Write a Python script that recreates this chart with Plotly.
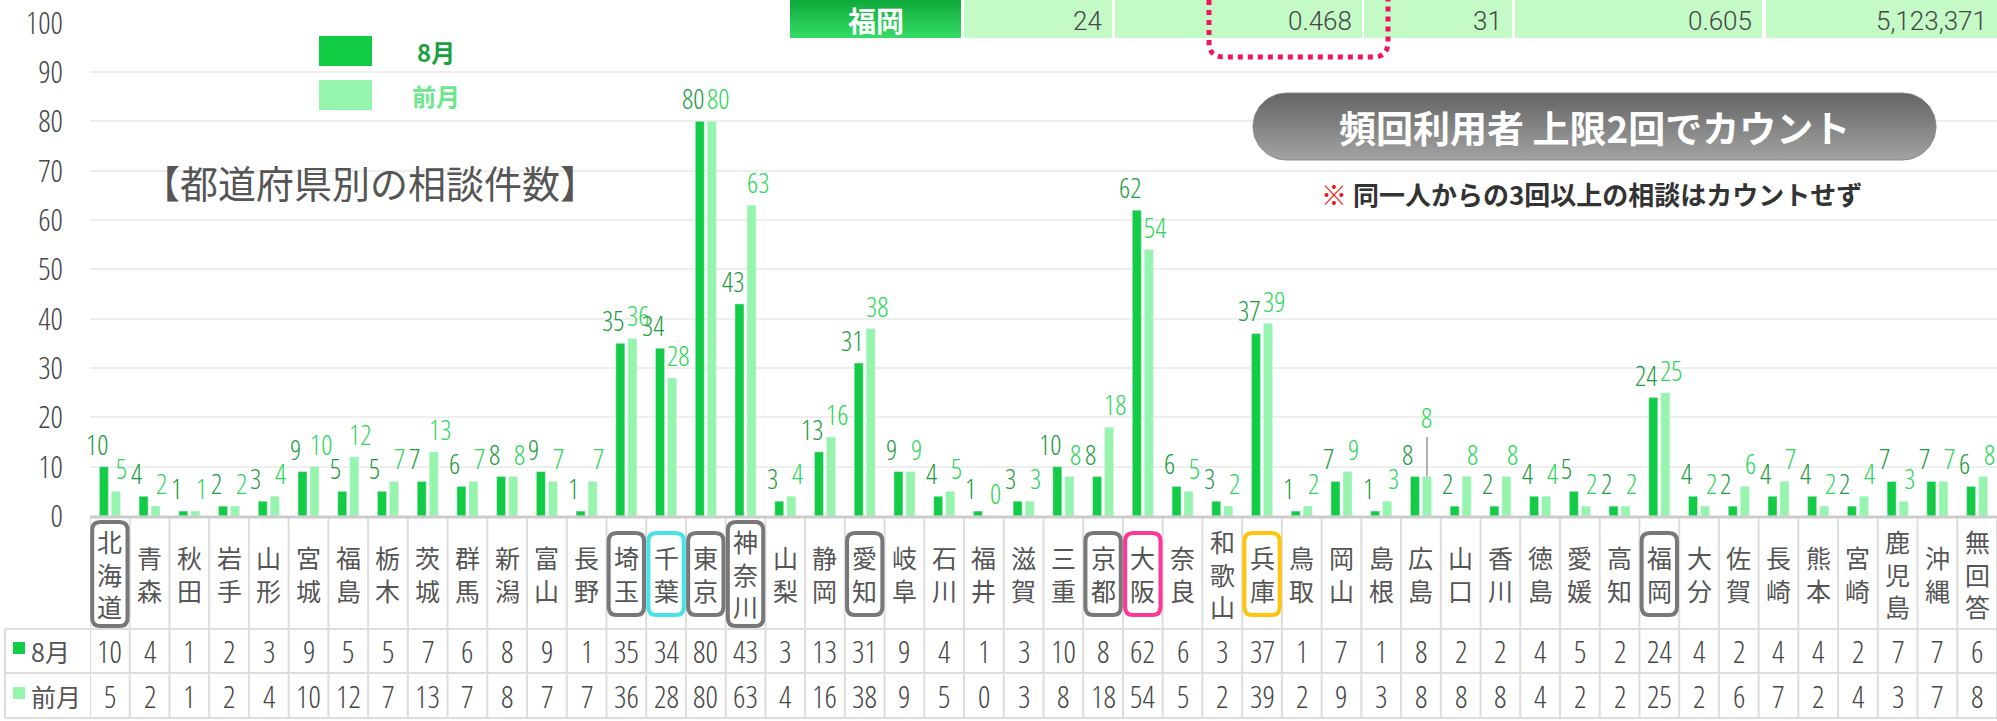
import numpy as np
import plotly.graph_objects as go

# ---------------- data ----------------
prefs = ["北海道", "青森", "秋田", "岩手", "山形", "宮城", "福島", "栃木", "茨城", "群馬",
         "新潟", "富山", "長野", "埼玉", "千葉", "東京", "神奈川", "山梨", "静岡", "愛知",
         "岐阜", "石川", "福井", "滋賀", "三重", "京都", "大阪", "奈良", "和歌山", "兵庫",
         "鳥取", "岡山", "島根", "広島", "山口", "香川", "徳島", "愛媛", "高知", "福岡",
         "大分", "佐賀", "長崎", "熊本", "宮崎", "鹿児島", "沖縄", "無回答"]
aug = [10, 4, 1, 2, 3, 9, 5, 5, 7, 6, 8, 9, 1, 35, 34, 80, 43, 3, 13, 31, 9, 4, 1,
       3, 10, 8, 62, 6, 3, 37, 1, 7, 1, 8, 2, 2, 4, 5, 2, 24, 4, 2, 4, 4, 2, 7, 7, 6]
prev = [5, 2, 1, 2, 4, 10, 12, 7, 13, 7, 8, 7, 7, 36, 28, 80, 63, 4, 16, 38, 9, 5, 0,
        3, 8, 18, 54, 5, 2, 39, 2, 9, 3, 8, 8, 8, 4, 2, 2, 25, 2, 6, 7, 2, 4, 3, 7, 8]
series_names = ["8月", "前月"]
y_ticks = list(range(0, 101, 10))
highlight = {"北海道": "#787878", "埼玉": "#787878", "千葉": "#46e4ea", "東京": "#787878",
             "神奈川": "#787878", "愛知": "#787878", "京都": "#787878", "大阪": "#fc3796",
             "兵庫": "#ffc40c", "福岡": "#787878"}
raised_label = "広島"          # 前月 label drawn with a leader line
top_row = ["福岡", "24", "0.468", "31", "0.605", "5,123,371"]
title_text = "【都道府県別の相談件数】"
pill_text = "頻回利用者 上限2回でカウント"
note_text = "同一人からの3回以上の相談はカウントせず"

# ---------------- style ----------------
W, H = 1997, 721
NARROW = "Open Sans Condensed Light, Roboto Condensed, sans-serif"
NW = 300
CJK = "Noto Sans CJK JP, Noto Sans, sans-serif"
C_AUG, C_PREV = "#11cc44", "#95f5ad"
C_AUG_T, C_PREV_T = "#1e9b41", "#2dd65a"
GRAY_T = "#555555"
NUM_T = "#474747"

def py(p):
    return 1 - p / H

def px(p):
    return p / W

n = len(prefs)
PLOT_L = 90
Y0, Y100 = 516, 22.7

fig = go.Figure()
fig.add_trace(go.Bar(x=prefs, y=aug, name=series_names[0], marker_color=C_AUG,
                     hoverinfo="skip"))
fig.add_trace(go.Bar(x=prefs, y=prev, name=series_names[1], marker_color=C_PREV,
                     hoverinfo="skip"))

BARGAP = 0.395
fig.update_layout(barmode="group", bargap=BARGAP, bargroupgap=0.25)

shapes = []
annotations = []

def ann(**kw):
    kw.setdefault("showarrow", False)
    kw.setdefault("xanchor", "center")
    kw.setdefault("yanchor", "middle")
    annotations.append(kw)

# ---------------- value labels above bars ----------------
off = (1 - BARGAP) / 4
raised_idx = prefs.index(raised_label)
LBL = 28
for i in range(n):
    ann(x=i - off, y=aug[i], xref="x", yref="y", text=str(aug[i]), yanchor="bottom",
        xshift=-7, yshift=2, font=dict(family=NARROW, size=LBL, color=C_AUG_T, weight=NW))
    if i == raised_idx:
        annotations.append(dict(x=i + off, y=prev[i], xref="x", yref="y", text=str(prev[i]),
                                showarrow=True, arrowhead=0, arrowwidth=1.5,
                                arrowcolor="#999999", ax=0, ay=-60, standoff=0,
                                font=dict(family=NARROW, size=LBL, color=C_PREV_T, weight=NW)))
    else:
        ann(x=i + off, y=prev[i], xref="x", yref="y", text=str(prev[i]), yanchor="bottom",
            xshift=6, yshift=2, font=dict(family=NARROW, size=LBL, color=C_PREV_T, weight=NW))

# ---------------- table under the chart ----------------
T_TOP, T_HDR, T_R1, T_BOT = 517, 629, 673, 718
for i in range(n + 1):
    shapes.append(dict(type="line", xref="x", yref="paper", x0=i - 0.5, x1=i - 0.5,
                       y0=py(T_TOP), y1=py(T_BOT), line=dict(color="#dddddd", width=2),
                       layer="above"))
shapes.append(dict(type="line", xref="paper", yref="paper", x0=px(5), x1=px(5),
                   y0=py(T_HDR), y1=py(T_BOT), line=dict(color="#dddddd", width=2)))
for yy in (T_HDR, T_R1, T_BOT):
    shapes.append(dict(type="line", xref="paper", yref="paper", x0=px(5), x1=1,
                       y0=py(yy), y1=py(yy), line=dict(color="#dddddd", width=2)))
shapes.append(dict(type="line", xref="x", yref="paper", x0=-0.5, x1=n - 0.5,
                   y0=py(T_TOP), y1=py(T_TOP), line=dict(color="#cccccc", width=3),
                   layer="above"))

def rrect(x0, x1, yt, yb, rx, ry):
    return (f"M {x0+rx},{yt} L {x1-rx},{yt} Q {x1},{yt} {x1},{yt-ry} "
            f"L {x1},{yb+ry} Q {x1},{yb} {x1-rx},{yb} L {x0+rx},{yb} "
            f"Q {x0},{yb} {x0},{yb+ry} L {x0},{yt-ry} Q {x0},{yt} {x0+rx},{yt} Z")

col_w = (W - PLOT_L) / n
for i, name in enumerate(prefs):
    ann(x=i, y=py(573), xref="x", yref="paper", text="<br>".join(name),
        font=dict(family=CJK, size=25, color=GRAY_T))
    ann(x=i, y=py(651), xref="x", yref="paper", text=str(aug[i]),
        font=dict(family=NARROW, size=31, color=NUM_T, weight=NW))
    ann(x=i, y=py(696), xref="x", yref="paper", text=str(prev[i]),
        font=dict(family=NARROW, size=31, color=NUM_T, weight=NW))
    if name in highlight:
        if len(name) >= 3:
            yt, yb = py(522), py(626)
        else:
            yt, yb = py(533), py(615)
        ins = 2.2 / col_w
        shapes.append(dict(type="path", xref="x", yref="paper",
                           path=rrect(i - 0.5 + ins, i + 0.5 - ins, yt, yb, 8 / col_w, 8 / H),
                           line=dict(color=highlight[name], width=4), layer="above"))

# row headers
for (yy, col, txt) in ((651, C_AUG, series_names[0]), (696, C_PREV, series_names[1])):
    shapes.append(dict(type="rect", xref="paper", yref="paper", x0=px(13), x1=px(25),
                       y0=py(yy - 9), y1=py(yy + 3), fillcolor=col, line=dict(width=0)))
    ann(x=px(29), y=py(yy), xref="paper", yref="paper", text=txt, xanchor="left",
        font=dict(family=CJK, size=25, color=GRAY_T))

# ---------------- legend ----------------
for (yy, col, tcol, txt) in ((51, C_AUG, "#1aa040", series_names[0]),
                             (95, C_PREV, "#6ae98c", series_names[1])):
    shapes.append(dict(type="rect", xref="paper", yref="paper", x0=px(319), x1=px(372),
                       y0=py(yy - 15), y1=py(yy + 15), fillcolor=col, line=dict(width=0)))
    ann(x=px(436), y=py(yy + 1), xref="paper", yref="paper", text=txt,
        font=dict(family=CJK, size=24, color=tcol, weight="bold"))

# title
ann(x=px(370), y=py(181), xref="paper", yref="paper", text=title_text,
    font=dict(family=CJK, size=38, color=GRAY_T))

# ---------------- top strip ----------------
cells = [(790, 961), (964, 1112), (1115, 1362), (1364, 1512), (1515, 1762), (1766, 1997)]
for k, (a, b) in enumerate(cells):
    if k == 0:
        xs = [a, b, b, a, a]
        ys = [0, 0, 38, 38, 0]
        fig.add_trace(go.Scatter(x=xs, y=ys, xaxis="x2", yaxis="y2", mode="lines",
                                 line=dict(width=0), fill="toself",
                                 fillgradient=dict(type="vertical",
                                                   colorscale=[[0, "#36dc68"], [1, "#0ea93a"]]),
                                 hoverinfo="skip", showlegend=False))
        ann(x=px((a + b) / 2), y=py(20.5), xref="paper", yref="paper", text=top_row[k],
            font=dict(family=CJK, size=28, color="white", weight="bold"))
    else:
        shapes.append(dict(type="rect", xref="paper", yref="paper", x0=px(a), x1=px(b),
                           y0=py(0), y1=py(38), fillcolor="#c3fac6", line=dict(width=0),
                           layer="above"))
        ann(x=px(b - 8), y=py(21), xref="paper", yref="paper", text=top_row[k],
            xanchor="right", font=dict(family="Roboto, sans-serif", size=26, color=NUM_T,
                                       weight=300))

# pink dotted outline
pl, pr, pb, r = 1209, 1388, 57, 15
pink_path = (f"M {px(pl)},{py(-20)} L {px(pl)},{py(pb - r)} "
             f"Q {px(pl)},{py(pb)} {px(pl + r)},{py(pb)} L {px(pr - r)},{py(pb)} "
             f"Q {px(pr)},{py(pb)} {px(pr)},{py(pb - r)} L {px(pr)},{py(-20)}")
shapes.append(dict(type="path", xref="paper", yref="paper", path=pink_path,
                   line=dict(color="#f2125f", width=5, dash="dot"), layer="above"))

# pill
cx0, cx1, cy, rad = 1253 + 33.5, 1936 - 33.5, 126.5, 33.5
ang_r = np.linspace(-np.pi / 2, np.pi / 2, 40)
ang_l = np.linspace(np.pi / 2, 3 * np.pi / 2, 40)
pxs = np.concatenate([cx1 + rad * np.cos(ang_r), cx0 + rad * np.cos(ang_l)])
pys = np.concatenate([cy + rad * np.sin(ang_r), cy + rad * np.sin(ang_l)])
pxs = np.append(pxs, pxs[0])
pys = np.append(pys, pys[0])
fig.add_trace(go.Scatter(x=pxs, y=pys, xaxis="x2", yaxis="y2", mode="lines",
                         line=dict(width=1, color="#8a8a8a"), fill="toself",
                         fillgradient=dict(type="vertical",
                                           colorscale=[[0, "#a3a3a3"], [1, "#646464"]]),
                         hoverinfo="skip", showlegend=False))
ann(x=px((1253 + 1936) / 2), y=py(127), xref="paper", yref="paper", text=pill_text,
    font=dict(family=CJK, size=37, color="white", weight="bold"))
ann(x=px(1591), y=py(193), xref="paper", yref="paper",
    text=f"<span style='color:#ee1111'>※</span> {note_text}",
    font=dict(family=CJK, size=26, color="#333333", weight="bold"))

fig.update_layout(
    width=W, height=H, margin=dict(l=0, r=0, t=0, b=0, pad=0, autoexpand=False),
    paper_bgcolor="white", plot_bgcolor="rgba(0,0,0,0)",
    showlegend=False, hovermode=False,
    xaxis=dict(domain=[px(PLOT_L), 1], showticklabels=False, showgrid=False, automargin=False,
               zeroline=False, showline=False, ticks="", fixedrange=True,
               range=[-0.5, n - 0.5]),
    yaxis=dict(domain=[py(Y0), py(Y100)], range=[0, 100], tickvals=y_ticks, automargin=False,
               showgrid=True, gridcolor="#eeeeee", gridwidth=2, zeroline=False,
               showline=False, ticks="", ticklabelstandoff=26,
               tickfont=dict(family=NARROW, size=31, color=NUM_T, weight=NW), fixedrange=True),
    xaxis2=dict(domain=[0, 1], range=[0, W], visible=False, anchor="y2", fixedrange=True,
                automargin=False),
    yaxis2=dict(domain=[0, 1], range=[H, 0], visible=False, anchor="x2", fixedrange=True,
                automargin=False),
    shapes=shapes, annotations=annotations,
)

fig.write_html("out.html", config={"displayModeBar": False},
               post_script="document.body.style.margin='0px';")
